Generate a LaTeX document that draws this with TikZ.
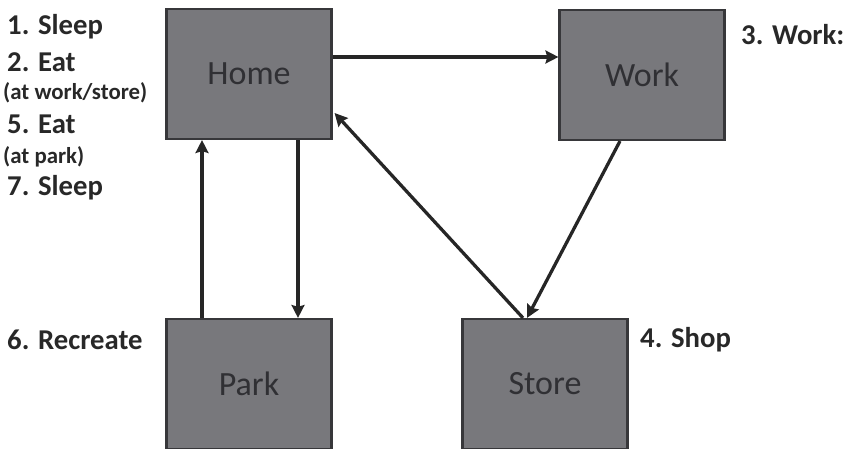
\documentclass[tikz,border=0pt]{standalone}
\usepackage{fontspec}
\setmainfont{Carlito}
\usepackage{xcolor}
\usepackage{tikz}
\usetikzlibrary{calc,arrows.meta}
\definecolor{boxgray}{RGB}{120,120,124}
\definecolor{boxline}{RGB}{55,55,58}
\definecolor{boxtext}{RGB}{48,48,52}
\definecolor{labtext}{RGB}{40,40,40}
\tikzset{
  place/.style={draw=boxline,line width=1.8pt,fill=boxgray,minimum width=4.95cm,minimum height=3.9cm,inner sep=0pt,
    text=boxtext,font=\fontsize{29}{32}\selectfont},
  todo/.style={anchor=west,inner sep=0pt,text=labtext,font=\bfseries\fontsize{24.5}{27}\selectfont},
  note/.style={anchor=west,inner sep=0pt,text=labtext,font=\bfseries\fontsize{19.5}{22}\selectfont},
  trip/.style={->,line width=2.8pt,draw=black!85}
}

\begin{document}
\begin{tikzpicture}[x=0.03cm,y=-0.03cm,>={Stealth[length=11pt,width=11pt,inset=1.5pt]}]
	 \useasboundingbox(0,0)rectangle(843,448);
	 \node[place](Home)at(249,74){Home};
	 \node[place](Work)at(642,75){Work};
	 \node[place](Park)at(249,384){Park};
	 \node[place](Store)at(545,384){Store};
	 \node[todo](s1)at(7,27){1. Sleep};
	 \node[todo](e2)at(7,62){2. Eat};
	 \node[note](n2)at(3,93){(at work/store)};
	 \node[todo](e5)at(7,124){5. Eat};
	 \node[note](n5)at(3,157){(at park)};
	 \node[todo](s7)at(7,188){7. Sleep};
	 \node[todo](w3)at(741,35){3. Work:};
	 \node[todo](r6)at(7,340){6. Recreate};
	 \node[todo](p4)at(640,340){4. Shop};
	 \draw[trip]($(Home.east)+(0,-17)$)--($(Work.west)+(0,-18)$);
	 \draw[trip]($(Work.south)+(-22,0)$)--($(Store.north)+(-18,0)$);
	 \draw[trip]($(Store.north)+(-22,0)$)--($(Home.east)+(2,39)$);
	 \draw[trip]($(Home.south)+(49,0)$)--($(Park.north)+(49,0)$);
	 \draw[trip]($(Park.north)+(-47,0)$)--($(Home.south)+(-47,0)$);
	\end{tikzpicture}
\end{document}
